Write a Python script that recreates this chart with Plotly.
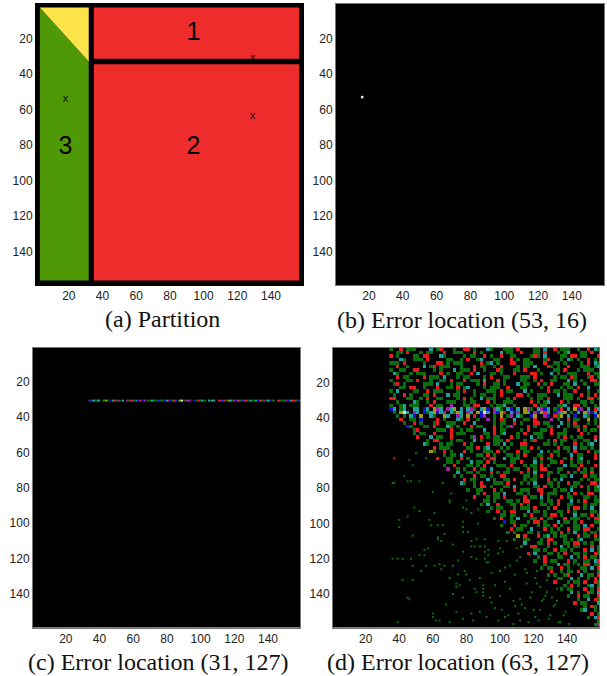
import plotly.graph_objects as go

W, H = 607, 676
tick_vals = [20, 40, 60, 80, 100, 120, 140]
tick_text = ["20", "40", "60", "80", "100", "120", "140"]
captions = ["(a) Partition", "(b) Error location (53, 16)", "(c) Error location (31, 127)", "(d) Error location (63, 127)"]

# panel (a): regions, data coordinates
red1_x = [34.8, 156.7, 156.7, 34.8]
red1_y = [2.5, 2.5, 31.4, 31.4]
red2_x = [34.8, 156.7, 156.7, 34.8]
red2_y = [34.5, 34.5, 156.5, 156.5]
green_x = [2.8, 31.8, 31.8, 2.8]
green_y = [2.5, 33.0, 156.5, 156.5]
yellow_x = [2.8, 31.8, 31.8]
yellow_y = [2.5, 2.5, 33.0]
label_x = [94, 94, 18]
label_y = [17.5, 81.5, 81.5]
label_text = ["1", "2", "3"]
cross_x = [129, 129, 18]
cross_y = [31, 64, 54]

# panel (b)
err_b_x = [16]
err_b_y = [53]

# panel (c): colour codes along the row, from x = 34
line_c = ("mbccgcc.ggyg.bcrgmgbc.mgrrmgcbrgbm.ggcrggbggmbcmbgrrbgywbgmmm.bbgrgcgm.cgcc"
          ".,rmbrggycgmbcrgbmrrgcggcbmrgmgcrbgg.rrgggmbgcrrgbmr")

# panel (d): colour codes per 2x2 cell, one row per y = 1, 3, 5, ...; row_start = first x of the row
row_start = [34, 34, 34, 34, 34, 34, 34, 34, 34, 34, 34, 34, 34, 34, 34, 34, 34,
             34, 36, 38, 40, 42, 44, 46, 48, 50, 52, 54, 56, 58, 60, 62, 64, 66, 68, 70, 72,
             74, 76, 78, 80, 82, 84, 86, 88, 90, 92, 94, 96, 98, 100, 102, 104, 106, 108, 110,
             112, 114, 116, 118, 120, 122, 124, 126, 128, 130, 132, 134, 136, 138, 140, 142,
             144, 146, 148, 150, 152, 154, 156]
rows_d = [
 "g..r.ggg....c.gr...g..rr.g...cg...ggg.r....gg.c..r.ggg..g..r.cg..",
 "..gg.r...g.gg...r..ggg...r.g.....c.gg..r...gg.r...g.gc...gg.r..g.",
 "r.g....gg.rr...cg.....g.gg..r.g..r..gg....grg.c....gg.rr.gg...r.g",
 "...cg..ggg.r.....gg..g.r..gc...gg...r.g.gg....gr...g.cg.g..r.g...",
 "ggg.r.....g...rr.g.ggg.....r.gc.g...rr..ggg...r..gg.g....g.r.cg.g",
 "..r..g....c.gr.ggg...g...r.gg..g.r....g.gg.c...rg.g..r...ggg.gc.r",
 "g..gg..rr....g.g...c.ggg.r..g...rg...gg.r...g....gg.r...g.ggg..r.",
 ".cg...g.ggg....r.g..gg..r.c...gg.g...r....rr.g..c.g..ggg...r.gg..",
 "..r.gg....r.ggg.c...g.gg....g.r...gg...ggg.r.....g.gg.rg...gr.g..",
 "g....gg.r...g..gg.r...r.ggg.c...r.g....gg..g.r..gg...c.g.g..rr..g",
 ".gr.g.....ggg.c...g.gg....g.r..gg.g...c.gg..r.g.r...gg.c..g..gg..",
 "...gg.rr..g...r..gg.r.gc....g.ggg..r...gg....g.r...g.gg.r..c...g.",
 "g.c....gg..r.ggg....g.r..g...ggg.r.gg...c.g....r.gg.g..r...g..gg.",
 ".g..r.g...gg.r...c.gg....g.gg..g.r....rr.g..ggg...c.ggg..r.g.r...",
 "rr...gg..g.r..gg....g.r.g..c.ggg...g.r....g.gg.r....ggg.g..rr.g..",
 "..g....cg..g.r...ggg..g.gg...r.g..ggg.....r.g.gc...r.g...gg.g..r.",
 "g..gc.ggg...r.gg..m...gg.rr...g.ggc..g.....r.gg...ggc..rr.g..g.r.",
 "bc.gc..cc.bc.ymc.mcy.c.cmg.cyb.mcg.cb.c.ymg.cmbc.gbr.c.ybm.c.rcbb",
 "g.ywc.mc.bgcybcm.cgyc.mc.ybwc.mbyr.cbm.yc.mbyrc.bmcy.g.c.ymbc.ybb",
 "g.g.cb.y..cg..yc..mc.y.r.bm..g.y.gm.cg..by..mb.rgy.c.b..cg.bym..b",
 "r..gg.b....r.g...cg.r..g..m.g.rg..c..gg.r....m.g..r.gg..y.g..r.gg",
 "g..r.g...gr..ggg..r..c.....g.gg..r.g...rr.gg...c.g.r...g.g...r.g.",
 "bg...gg.r...cg.g...r.gg...r.g.gm....r.g...gg.c..g.gg.r...r.gg..c.",
 ".gr.....ggg.r..g.gg...c..r.gg....g.r...gg.r...g...r.g.gg.y..g.gr.",
 "g.gg..r....r.ggg.....gg.r.gc...g.r..ggg..r.ggg....r.g...g.gg.r.g.",
 "r...c.gg..r.....gm.r.g.gg...r.g...c.gg....g.r.g.gg...r.g.cg..g.r",
 "..g.rr...g.gg...c.g...ggg.r....g.gr...g.r.gg..g..gg.c..r.gg...g.",
 "cg...g.gg...r.g....r.gg.c.g..rr.....gg.g.g...r.g.gc...gg.r.g...r",
 "..r.ggg.....gg.r.gc...g.g...gg.r.g.....r.gg.c.gg.g..r....gg.g.r.",
 "yg..r.g...r.g...ggg.r.g...r.gg...c.g.gg..g.r...r.gg..g.c.g.rr.",
 "...g.gg.c....gg.r.g...gg.g.r...gg..r.g...c.gg...r.g.gg...g.r.",
 "r..gg..r.g....g.rr..c.ggg....g.r.gg...g.r.gc...r.gg..g.r.gg.",
 "..gg.g...c.gg.r.g....gg.r...c.g..gg.r..g.gg.g...r.g.g.c.gg.g",
 "g..r...gg.g.r...ggg.r...g.gg.r.g....c.gg.r...r.gg.g...r.g..",
 "m..g.g..r.gg.c....g.gg..r.g.rr...gg....r.g.g..gg.c.g.r.gg",
 "..c..gg.g...r.g.gg...r.g.c...gg.g..r.g.gg.r.....gc.g.g.r..",
 "g.g...r.gg.g..rr.....gg.g.r.g...gg.c...r.gg.g...r.g.gg.r",
 "..r.gg...c.g..gg.r..g.gg...r.g.c.....g.g.gg.r.g...gc.g..",
 "cg..g.r...ggg.r...g.g.c...gg.g..r.gg...rr.g..gg.r...g.",
 "...g.rr.g...gg.c.....gg.r.g.g...gg.r.g.gc..r.g..gg.r.",
 "g..gg...r.g...r.ggg..rr...g.gg.c....g.gg.r.g...g.",
 "..g.r..gg.c...gg.g...r.ggg...g.r.g.rr...g.c.gg..",
 "r...g.gg.r.....r.gg.c.g...r.gg...gg.g.r...g.g.",
 "..gg.g...gg.g.rr...g.gg.r...c.g.r..gg.g.rr...",
 "g.c..r...gg.r.g...gg.g.r..gg...g.gg.r..gc.g",
 "..g.gg...g.ggg.r...g.r...g.rr.g.c...gg.r..",
 "g..r.g.rr...c.gg.g...gg.r.g....gg.g.r.g.",
 "...gg.gg..g.r...g.rr.g...c.gg.r.g.gg..",
 "g.r..g.c...gg.r.gg...r.ggg..g.rr..c.",
 "..b.gg...g.rr.g...c.gg.g.r...gg.g.g",
 "g...r.gg...g.gg.r.g...gg.c.r..gr.",
 "..r.gg..c...r.g.g..r.gg.rr..g.gg",
 "g.g...gg.g...gg.r.g.c..g.gg.r..",
 "..y.r...r.gc.g.gg...r.gg.r..g",
 "g..gg...g.rr...g.g.gc...gg..",
 "..c...gg.r.g..gg.rr.g.g..r.",
 "g..rr...g...c.g.gg...r.gg",
 "...gg.g..r.gg.g...r.c.gg",
 "r.c...gg.g.r..gg.g..rg",
 "..g.r...gg..c.g.r.gg.",
 "g..r.gg...r.g..gg.cr",
 "..g...c.gg..g.rr.gg",
 "g.gg..r.g...gg.c.r",
 "..r..g.gg.r.g...g",
 "g.g..gr...c.gg.r",
 "..gg..c.g..g.r.",
 "r...g.gg.r..rg",
 "..g.r.g..gc.g",
 "g.gg...r.g.r",
 "..c.g..rg.c",
 "g..r.gg..r",
 "..g..c.rg",
 "r.gg...c",
 "..g.rg.",
 "gc..g.",
 "..r.g",
 "g.cr",
 "..g",
 "gm",
]
d_red_x = [37]
d_red_y = [63]
sparse_x = [50, 46, 48, 43, 36, 37, 45, 47, 52, 56, 66, 60, 71, 70, 90, 90, 90, 90, 74, 74, 80, 39, 60, 60, 62, 64,
            42, 48, 45, 46,
            49, 40, 45, 52, 61, 58, 59, 63, 66, 40, 48, 63, 63, 67, 65, 78, 78, 78, 81, 70, 80, 78, 80, 83, 87, 87,
            86, 91, 83, 83, 85, 88, 91, 91, 93, 93, 99, 104, 100, 102, 99, 110, 57, 55, 52, 55, 47, 36, 39, 42,
            48, 56, 61, 64, 67, 65, 75, 78, 72, 83, 86, 91, 93, 53, 70, 72, 75, 76, 79, 82, 85, 88,
            92, 95, 97, 100, 103, 106, 109, 112, 115, 118, 121, 124, 68, 72, 78, 83, 86,
            94, 97, 100, 103, 106, 109, 112, 116, 119, 122, 125, 128, 131, 134, 70, 74, 78, 84, 88, 92, 95, 99,
            101, 105, 108, 112, 115, 118, 121, 124, 127, 130, 133, 136, 139,
            108, 111, 113, 117, 120, 123, 126, 129, 132, 135, 138, 141, 144, 103, 110, 116, 122, 128, 134, 140]
sparse_y = [60, 64, 67, 73, 77, 77, 76, 76, 76, 63, 77, 82, 83, 88, 135, 137, 139, 141, 134, 136, 129, 156, 151, 153,
            155, 155, 132, 132, 142, 143,
            91, 98, 96, 93, 94, 98, 101, 101, 101, 102, 107, 108, 109, 106, 110, 99, 102, 105, 105, 87, 87, 91, 92,
            94, 92, 100, 109, 109, 110, 113, 113, 113, 113, 116, 115, 118, 110, 110, 114, 116, 117, 114, 114, 115,
            118, 118, 120, 120, 120, 120, 124, 124, 124, 123, 124, 126, 121, 116, 112, 119, 120, 120, 122, 127, 131,
            124, 129, 135, 127, 132, 137, 131, 122, 128, 135, 127, 133, 124, 129, 119, 126, 118, 131,
            136, 146, 140, 142, 151, 139, 142, 148, 141, 153, 137, 147,
            143, 134, 139, 127, 144, 132, 142, 137, 156, 150, 154, 155, 150, 153, 145, 155,
            149, 152, 144, 155, 148, 142, 153, 149, 141, 152, 146, 156, 150, 157, 151, 146, 156, 149, 155, 143, 154,
            147, 156, 152, 157, 123, 125, 121, 128, 134, 139, 144]

panel_px = [(36, 303, 4, 285), (336, 604, 4, 285), (33, 300, 347.5, 627.5), (333, 599, 348, 627.5)]
caption_px = [(162, 319), (462, 320), (158.5, 662), (458, 662)]

codes = {".": 0, ",": 0, "g": 1, "r": 2, "c": 3, "b": 4, "m": 5, "y": 6, "w": 7}
palette = ["#000000", "#0a6e0e", "#e81a1e", "#1ea0a0", "#1414c8", "#a020a8", "#a09a14", "#c8e0e0"]
scale = []
for i, c in enumerate(palette):
    scale += [[i / 8, c], [(i + 1) / 8, c]]

grid = []
for start, row in zip(row_start, rows_d):
    first = (start - 34) // 2
    line = [0] * 63
    for j, ch in enumerate(row):
        if first + j < 63:
            line[first + j] = codes[ch]
    grid.append(line)

fig = go.Figure()


def poly(xs, ys, color):
    fig.add_trace(go.Scatter(x=xs, y=ys, mode="lines", fill="toself", fillcolor=color, line=dict(width=0),
                             xaxis="x", yaxis="y", hoverinfo="skip"))


poly(green_x, green_y, "#4f9806")
poly(yellow_x, yellow_y, "#fde34a")
poly(red1_x, red1_y, "#ef2c2c")
poly(red2_x, red2_y, "#ef2c2c")
fig.add_trace(go.Scatter(x=label_x, y=label_y, mode="text", text=label_text, xaxis="x", yaxis="y",
                         textfont=dict(family="Liberation Sans", size=25, color="#000")))
fig.add_trace(go.Scatter(x=cross_x, y=cross_y, mode="text", text=["x"] * 3, xaxis="x", yaxis="y",
                         textfont=dict(family="Liberation Sans", size=11, color="#111")))
fig.add_trace(go.Scatter(x=err_b_x, y=err_b_y, mode="markers", xaxis="x2", yaxis="y2",
                         marker=dict(size=2.5, color="#e8e8e0", symbol="square")))
c_codes = [codes[ch] for ch in line_c[:126]]
fig.add_trace(go.Heatmap(z=[c_codes], x0=34, dx=1, y0=30.7, dy=1.4, zmin=0, zmax=8, colorscale=scale, showscale=False,
                         xaxis="x3", yaxis="y3", hoverinfo="skip"))
fig.add_trace(go.Heatmap(z=grid, x0=35, dx=2, y0=1, dy=2, zmin=0, zmax=8, colorscale=scale, showscale=False,
                         xaxis="x4", yaxis="y4", hoverinfo="skip"))
fig.add_trace(go.Scatter(x=sparse_x, y=sparse_y, mode="markers", xaxis="x4", yaxis="y4",
                         marker=dict(size=2, color="#0a6e0e", symbol="square")))
fig.add_trace(go.Scatter(x=d_red_x, y=d_red_y, mode="markers", xaxis="x4", yaxis="y4",
                         marker=dict(size=2, color="#e81a1e", symbol="square")))

layout = dict(width=W, height=H, margin=dict(l=0, r=0, t=0, b=0), paper_bgcolor="#fff", plot_bgcolor="#000",
              showlegend=False, font=dict(family="Liberation Sans", size=12, color="#222"))
annos = []
for i, (x0, x1, y0, y1) in enumerate(panel_px):
    s = "" if i == 0 else str(i + 1)
    common = dict(tickmode="array", tickvals=tick_vals, ticktext=tick_text, ticks="", showgrid=False, zeroline=False,
                  showline=True, linecolor="#000" if i == 0 else "#777", linewidth=1, mirror=True,
                  tickfont=dict(family="Liberation Sans", size=12, color="#222"))
    layout["xaxis" + s] = dict(domain=[x0 / W, x1 / W], range=[0.5, 159], anchor="y" + s, **common)
    layout["yaxis" + s] = dict(domain=[1 - y1 / H, 1 - y0 / H], range=[159, 0.5], anchor="x" + s, **common)
    cx, cy = caption_px[i]
    annos.append(dict(text=captions[i], xref="paper", yref="paper", x=cx / W, y=1 - cy / H, showarrow=False,
                      xanchor="center", yanchor="middle",
                      font=dict(family="Liberation Serif", size=24, color="#111")))
layout["annotations"] = annos
fig.update_layout(**layout)
fig.write_html("out.html", config=dict(displayModeBar=False),
               post_script="document.body.style.margin='0';document.body.style.overflow='hidden';")
